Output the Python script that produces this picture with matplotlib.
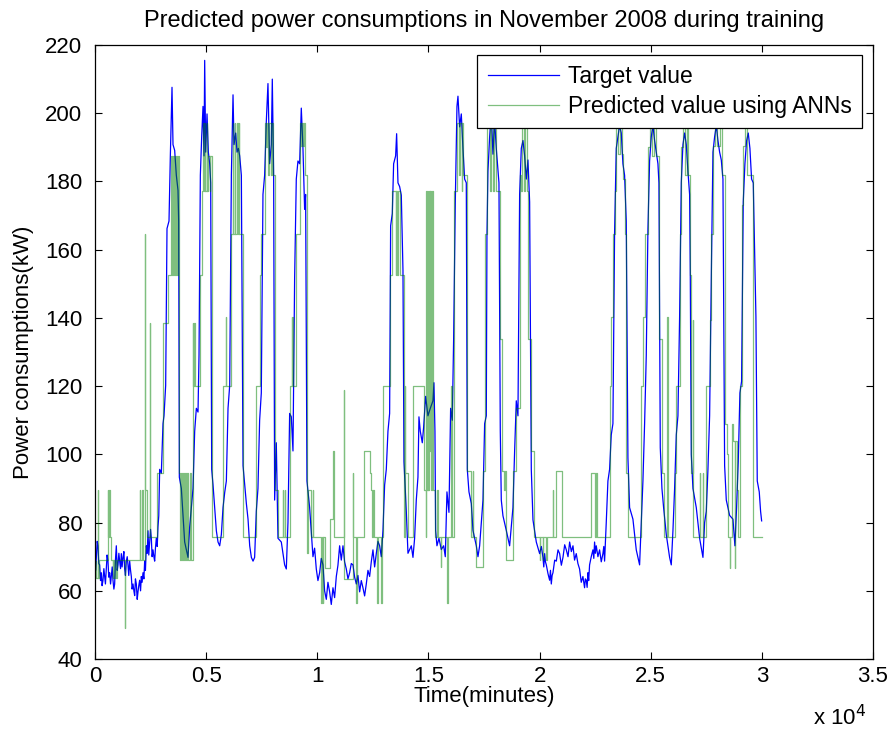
import matplotlib
matplotlib.use("Agg")
import matplotlib.pyplot as plt

plt.rcParams['font.family'] = ['Liberation Sans', 'DejaVu Sans']

# target (measured) consumption as (minute, kW), one list per stretch of days
target_nov1_7 = [
    (0, 72.0), (30, 66.0), (60, 69.8), (100, 74.5), (135, 73.2), (170, 68.0),
    (210, 67.6), (250, 63.0), (285, 65.3), (320, 61.5), (360, 63.1), (400, 66.5),
    (435, 64.2), (470, 62.0), (510, 66.4), (545, 70.5), (585, 68.7), (620, 64.0),
    (660, 65.3), (700, 62.0), (735, 64.2), (775, 67.0), (810, 63.1), (850, 60.5),
    (885, 62.0), (920, 69.0), (960, 73.2), (1000, 66.0), (1035, 67.6), (1075, 71.0),
    (1110, 68.7), (1150, 66.5), (1185, 70.9), (1220, 67.0), (1260, 69.8), (1300, 71.5),
    (1335, 66.4), (1370, 64.5), (1410, 68.7), (1450, 70.0), (1485, 67.6), (1520, 64.5),
    (1560, 68.7), (1600, 66.0), (1635, 64.2), (1670, 60.5), (1710, 62.0), (1750, 60.0),
    (1785, 58.6), (1820, 63.5), (1860, 62.0), (1900, 57.5), (1935, 59.7), (1970, 61.5),
    (2010, 63.1), (2050, 60.0), (2085, 64.2), (2120, 62.5), (2160, 65.3), (2200, 63.5),
    (2235, 68.7), (2270, 66.0), (2310, 73.2), (2350, 71.0), (2385, 77.6), (2420, 70.5),
    (2460, 74.3), (2500, 78.0), (2535, 75.4), (2570, 70.0), (2610, 72.0), (2650, 70.0),
    (2685, 68.7), (2720, 72.5), (2760, 75.4), (2800, 73.0), (2835, 78.8), (2870, 82.0),
    (2910, 95.6), (2985, 94.5), (3060, 109.0), (3105, 111.3), (3180, 120.2),
    (3240, 166.2), (3330, 168.4), (3390, 187.5), (3420, 195.3), (3465, 207.6),
    (3510, 190.8), (3585, 189.1), (3660, 181.8), (3735, 177.4), (3765, 168.4),
    (3795, 93.3), (3885, 90.0), (3960, 82.1), (4035, 74.3), (4110, 72.0), (4185, 69.8),
    (4260, 78.8), (4335, 84.4), (4410, 90.0), (4485, 106.8), (4560, 113.5),
    (4635, 112.4), (4680, 129.2), (4740, 181.8), (4800, 193.1), (4860, 202.0),
    (4905, 187.5), (4935, 215.5), (4980, 188.6), (5040, 199.8), (5100, 188.6),
    (5160, 185.2), (5205, 179.6), (5250, 95.6), (5310, 91.1), (5385, 84.4),
    (5460, 77.6), (5535, 74.3), (5610, 73.2), (5685, 76.5), (5760, 84.4), (5835, 88.8),
    (5910, 92.2), (5985, 113.5), (6060, 120.2), (6135, 181.8), (6210, 205.4),
    (6255, 190.8), (6330, 194.2), (6390, 188.6), (6450, 189.7), (6510, 187.5),
    (6585, 181.8), (6660, 96.7), (6735, 91.1), (6810, 85.6), (6885, 81.0),
    (6960, 73.2), (7035, 69.8), (7110, 68.7),
]
target_nov6_10 = [
    (7182, 69.8), (7257, 83.3), (7332, 90.0), (7407, 110.0), (7482, 118.0),
    (7557, 176.2), (7632, 181.8), (7707, 197.5), (7782, 208.7), (7857, 185.2),
    (7932, 190.8), (7977, 210.0), (8037, 181.8), (8082, 86.6), (8157, 103.4),
    (8232, 75.4), (8382, 74.3), (8532, 67.6), (8607, 66.4), (8682, 80.0),
    (8757, 112.0), (8832, 111.0), (8907, 101.0), (8981, 151.6), (9056, 180.7),
    (9131, 186.0), (9206, 185.2), (9281, 201.5), (9356, 189.7), (9431, 171.8),
    (9476, 176.2), (9536, 92.2), (9656, 84.4), (9806, 70.0), (9880, 72.5),
    (9956, 66.4), (10030, 63.0), (10106, 65.3), (10180, 69.5), (10256, 67.6),
    (10330, 60.0), (10406, 57.5), (10480, 62.5), (10556, 59.7), (10630, 56.0),
    (10706, 60.9), (10780, 58.0), (10856, 64.2), (10930, 67.5), (11006, 73.2),
    (11080, 69.0), (11156, 73.2), (11230, 68.5), (11306, 66.4), (11380, 63.5),
    (11456, 65.3), (11530, 68.0), (11606, 67.6), (11680, 64.0), (11756, 62.0),
    (11830, 64.5), (11906, 59.7), (11980, 63.0), (12055, 60.9), (12130, 58.5),
    (12205, 62.0), (12280, 66.0), (12355, 64.2), (12430, 68.5), (12505, 72.0),
    (12580, 67.0), (12655, 70.9), (12730, 74.5), (12805, 73.2), (12880, 70.0),
    (12955, 77.7), (13030, 91.0), (13105, 95.6), (13180, 106.8), (13255, 112.0),
    (13300, 167.0), (13375, 170.6), (13435, 185.2), (13525, 187.5), (13570, 194.0),
    (13630, 179.6), (13705, 178.5), (13780, 176.0), (13855, 154.0), (13900, 97.8),
    (14005, 83.3), (14080, 71.0), (14230, 73.2), (14305, 69.8),
]
target_nov11_15 = [
    (14379, 75.4), (14454, 86.6), (14529, 93.3), (14574, 111.0), (14634, 106.8),
    (14724, 103.4), (14784, 107.9), (14874, 117.0), (14979, 111.3), (15084, 113.5),
    (15204, 115.7), (15249, 121.0), (15294, 106.8), (15324, 77.7), (15384, 73.2),
    (15474, 75.4), (15579, 72.1), (15684, 73.2), (15759, 70.0), (15834, 89.0),
    (15924, 83.0), (15999, 113.5), (16074, 110.0), (16134, 133.7), (16209, 174.0),
    (16284, 202.0), (16329, 205.0), (16404, 196.0), (16479, 199.8), (16554, 189.7),
    (16629, 180.7), (16704, 179.6), (16749, 95.6), (16824, 89.0), (16929, 85.6),
    (17004, 77.7), (17154, 73.2), (17229, 70.0), (17304, 73.2), (17379, 80.0),
    (17454, 86.6), (17529, 109.0), (17604, 111.3), (17633, 164.0), (17678, 183.0),
    (17753, 193.0), (17828, 200.0), (17903, 188.0), (17978, 198.0), (18053, 189.7),
    (18173, 179.6), (18233, 106.8), (18278, 86.6), (18353, 82.0), (18503, 77.7),
    (18653, 73.2), (18728, 78.8), (18803, 84.4), (18878, 101.0), (18953, 115.7),
    (19028, 111.3), (19103, 176.2), (19178, 189.7), (19253, 192.0), (19328, 187.5),
    (19403, 180.7), (19478, 186.3), (19553, 174.0), (19628, 95.6), (19703, 80.8),
    (19853, 74.3), (20003, 70.9), (20080, 73.0), (20153, 69.8), (20190, 67.0),
    (20228, 70.9), (20265, 68.5), (20303, 67.6), (20380, 65.0), (20453, 63.1),
    (20490, 66.0), (20528, 62.0), (20565, 64.5), (20603, 65.3), (20680, 69.0),
    (20753, 68.7), (20830, 72.0), (20903, 70.9), (20980, 67.5), (21053, 69.8),
    (21130, 73.5), (21203, 72.0), (21280, 70.0), (21353, 74.3), (21430, 71.5),
    (21503, 73.2),
]
target_nov16_21 = [
    (21575, 69.0), (21650, 70.9), (21725, 68.0), (21800, 66.4), (21875, 62.5),
    (21950, 64.2), (22025, 60.9), (22060, 63.5), (22100, 63.1), (22140, 61.0),
    (22175, 65.3), (22210, 63.0), (22250, 67.6), (22325, 70.0), (22400, 72.0),
    (22440, 69.5), (22475, 74.3), (22510, 71.0), (22550, 73.2), (22625, 70.0),
    (22700, 72.0), (22775, 68.5), (22850, 70.9), (22890, 73.0), (22925, 68.7),
    (23000, 80.0), (23075, 92.2), (23150, 95.6), (23225, 105.7), (23300, 109.0),
    (23375, 165.0), (23450, 189.7), (23525, 193.1), (23600, 196.4), (23675, 194.2),
    (23750, 185.2), (23825, 181.8), (23900, 168.4), (23975, 99.0), (24050, 84.4),
    (24200, 81.0), (24350, 72.0), (24500, 67.6), (24575, 80.0), (24650, 92.2),
    (24725, 109.0), (24800, 129.0), (24875, 166.0), (24950, 186.0), (25025, 193.1),
    (25100, 196.4), (25175, 192.0), (25250, 188.6), (25325, 185.2), (25370, 179.6),
    (25430, 102.0), (25505, 90.0), (25580, 84.4), (25700, 76.5), (25850, 69.8),
    (25925, 67.6), (26000, 77.6), (26075, 90.0), (26150, 105.7), (26225, 111.3),
    (26300, 140.4), (26375, 179.6), (26450, 190.8), (26525, 194.2), (26600, 190.8),
    (26675, 182.9), (26750, 176.2), (26780, 152.7), (26825, 100.0), (26900, 90.0),
    (27050, 84.4), (27200, 75.4), (27350, 69.8), (27425, 80.0), (27500, 83.3),
    (27575, 95.6), (27650, 111.3), (27725, 151.6), (27800, 188.6), (27875, 193.1),
    (27950, 196.4), (28025, 192.0), (28100, 188.6), (28175, 186.3), (28250, 180.7),
    (28325, 96.7), (28400, 86.6), (28550, 82.1), (28700, 81.0), (28788, 73.2),
    (28863, 84.4), (28938, 97.8), (29013, 118.0), (29088, 121.4), (29163, 174.0),
    (29238, 185.2), (29313, 191.9), (29388, 194.2), (29463, 189.7), (29538, 180.7),
    (29613, 179.6), (29733, 140.4), (29793, 92.2), (29883, 89.0), (29943, 83.3),
    (29990, 80.5),
]

# ANN prediction: held value from each start minute on
pred_nov1_7 = [
    (0, 68.7), (60, 63.7), (130, 89.5), (145, 63.7), (200, 69.0), (585, 89.5),
    (600, 75.9), (640, 89.5), (655, 75.9), (735, 69.0), (800, 63.7), (830, 69.0),
    (870, 63.7), (900, 69.0), (960, 63.7), (990, 69.0), (1335, 49.0), (1350, 69.0),
    (2010, 89.5), (2030, 69.0), (2120, 89.5), (2140, 69.0), (2235, 164.5),
    (2250, 89.5), (2360, 75.9), (2480, 138.4), (2495, 75.9), (2800, 94.5),
    (3060, 138.4), (3290, 152.7), (3430, 187.5), (3480, 152.7), (3500, 187.5),
    (3550, 152.7), (3570, 187.5), (3620, 152.7), (3640, 187.5), (3700, 152.7),
    (3720, 187.5), (3760, 152.7), (3795, 94.5), (3840, 69.0), (3880, 94.5),
    (3930, 69.0), (3970, 94.5), (4010, 69.0), (4060, 94.5), (4100, 69.0),
    (4150, 94.5), (4200, 69.0), (4260, 94.5), (4300, 69.0), (4410, 138.4),
    (4430, 120.0), (4470, 138.4), (4490, 120.0), (4740, 152.7), (4830, 177.2),
    (4870, 197.2), (4890, 177.2), (4950, 197.2), (4970, 177.2), (5020, 197.2),
    (5040, 177.2), (5100, 187.5), (5160, 177.2), (5190, 187.5), (5250, 75.9),
    (5760, 120.0), (5880, 140.4), (5895, 120.0), (6135, 164.5), (6200, 197.2),
    (6230, 164.5), (6290, 197.2), (6320, 164.5), (6380, 197.2), (6420, 164.5),
    (6460, 197.2), (6500, 164.5), (6660, 75.9),
]
pred_nov6_10 = [
    (7257, 120.0), (7407, 152.7), (7482, 164.5), (7632, 197.2), (7700, 190.0),
    (7740, 197.2), (7800, 182.0), (7850, 197.2), (7900, 182.0), (7950, 197.2),
    (8000, 182.0), (8082, 89.5), (8232, 75.9), (8450, 89.5), (8465, 75.9),
    (8532, 89.5), (8550, 75.9), (8757, 120.0), (8850, 140.4), (8870, 120.0),
    (8890, 140.4), (8910, 120.0), (9056, 164.5), (9206, 197.2), (9250, 190.5),
    (9300, 197.2), (9360, 190.5), (9400, 197.2), (9431, 182.0), (9536, 89.5),
    (9560, 71.0), (9580, 89.5), (9700, 75.9), (9800, 89.5), (9820, 75.9),
    (10180, 56.4), (10200, 75.9), (10256, 56.4), (10276, 75.9), (10330, 66.6),
    (10556, 81.0), (10706, 101.0), (10750, 75.9), (11200, 119.0), (11220, 63.5),
    (11606, 94.5), (11625, 75.9), (11756, 56.4), (11776, 75.9), (12100, 101.0),
    (12355, 94.5), (12430, 89.5), (12450, 75.9), (12520, 89.5), (12540, 75.9),
    (12700, 56.4), (12720, 75.9), (12880, 56.4), (12900, 75.9), (12955, 120.0),
    (13255, 152.7), (13375, 177.2), (13520, 152.7), (13560, 177.2), (13600, 152.7),
    (13650, 177.2), (13700, 152.7), (13900, 75.9), (13930, 120.0), (13950, 94.5),
    (14080, 75.9),
]
pred_nov11_15 = [
    (14304, 120.0), (14800, 89.5), (14870, 75.9), (14900, 177.2), (14930, 89.5),
    (14960, 177.2), (14990, 89.5), (15020, 177.2), (15050, 101.0), (15090, 177.2),
    (15120, 89.5), (15160, 177.2), (15190, 89.5), (15294, 75.9), (15400, 89.5),
    (15420, 75.9), (15550, 67.0), (15570, 75.9), (15840, 56.4), (15860, 75.9),
    (15999, 120.0), (16074, 75.9), (16134, 177.2), (16284, 197.2), (16380, 182.0),
    (16420, 197.2), (16500, 177.2), (16530, 197.2), (16554, 182.0), (16749, 95.0),
    (16929, 75.9), (17000, 95.0), (17020, 75.9), (17154, 67.0), (17454, 95.0),
    (17529, 164.5), (17640, 197.2), (17760, 177.2), (17800, 197.2), (17900, 177.2),
    (17950, 200.0), (18053, 177.2), (18233, 133.7), (18300, 95.0), (18420, 89.5),
    (18450, 95.0), (18503, 69.0), (18803, 95.0), (18953, 113.5), (19103, 182.0),
    (19150, 177.2), (19200, 197.2), (19300, 177.2), (19350, 197.2), (19420, 177.2),
    (19478, 133.7), (19628, 101.0), (19750, 75.9), (20003, 69.0), (20020, 75.9),
    (20153, 69.0), (20170, 75.9), (20303, 69.0), (20320, 75.9), (20603, 89.5),
    (20620, 75.9), (20730, 95.0), (21000, 75.9),
]
pred_nov16_21 = [
    (22325, 94.5), (22475, 75.9), (22550, 94.5), (22570, 75.9), (23150, 120.0),
    (23225, 140.4), (23300, 164.5), (23375, 177.2), (23450, 197.2), (23550, 188.0),
    (23600, 197.2), (23700, 188.0), (23750, 180.7), (23825, 164.5), (23900, 94.5),
    (23975, 75.9), (24575, 120.0), (24650, 140.4), (24725, 164.5), (24875, 190.0),
    (24950, 197.2), (25050, 187.5), (25150, 197.2), (25250, 187.5), (25370, 133.7),
    (25505, 94.5), (25580, 75.9), (25750, 140.4), (25770, 75.9), (26075, 94.5),
    (26150, 120.0), (26300, 164.5), (26375, 190.0), (26450, 197.2), (26550, 182.0),
    (26650, 197.2), (26700, 182.0), (26750, 152.7), (26825, 94.5), (26900, 139.5),
    (26920, 75.9), (27200, 94.5), (27230, 75.9), (27350, 94.5), (27370, 75.9),
    (27500, 120.0), (27650, 139.5), (27725, 164.5), (27800, 190.5), (27900, 197.2),
    (28000, 190.5), (28100, 197.2), (28200, 182.0), (28325, 109.0), (28420, 100.0),
    (28470, 75.9), (28560, 66.6), (28580, 75.9), (28650, 109.0), (28713, 104.0),
    (28788, 66.6), (28808, 104.0), (28900, 89.5), (28938, 75.9), (29013, 120.0),
    (29088, 173.0), (29163, 190.5), (29250, 197.2), (29313, 182.0), (29613, 75.9),
    (29990, 75.9),
]

xticks = [0, 5000, 10000, 15000, 20000, 25000, 30000, 35000]
xticklabels = ['0', '0.5', '1', '1.5', '2', '2.5', '3', '3.5']
yticks = list(range(40, 221, 20))

target = target_nov1_7 + target_nov6_10 + target_nov11_15 + target_nov16_21
pred = pred_nov1_7 + pred_nov6_10 + pred_nov11_15 + pred_nov16_21
t_min, t_kw = zip(*target)
p_min, p_kw = zip(*pred)

fig = plt.figure(figsize=(8.91, 7.38), dpi=100)
ax = fig.add_axes([0.1066, 0.107, 0.8732, 0.832])

ax.plot(t_min, t_kw, color='#0000ff', lw=0.9, label='Target value')
ax.plot(p_min, p_kw, color='#008000', lw=0.9, alpha=0.5,
        drawstyle='steps-post', label='Predicted value using ANNs')

ax.set_xlim(0, 35000)
ax.set_ylim(40, 220)
ax.set_xticks(xticks)
ax.set_xticklabels(xticklabels)
ax.set_yticks(yticks)
ax.tick_params(direction='in', top=True, right=True, length=5, width=0.8,
               labelsize=16)
ax.tick_params(axis='x', pad=5)
ax.tick_params(axis='y', pad=9)
for s in ax.spines.values():
    s.set_linewidth(0.9)

ax.set_title('Predicted power consumptions in November 2008 during training',
             fontsize=17, pad=13)
ax.set_xlabel('Time(minutes)', fontsize=16, labelpad=-1)
ax.set_ylabel('Power consumptions(kW)', fontsize=16, labelpad=8)
fig.text(0.972, 0.018, r'x 10$^{4}$', fontsize=16, ha='right', va='baseline')

leg = ax.legend(loc='upper right', bbox_to_anchor=(0.986, 0.984), fontsize=16.5,
                fancybox=False, edgecolor='black', framealpha=1,
                handlelength=3.1, handletextpad=0.4, labelspacing=0.3,
                borderpad=0.45, borderaxespad=0)
leg.get_frame().set_linewidth(0.9)

fig.savefig('out.png', dpi=100)
